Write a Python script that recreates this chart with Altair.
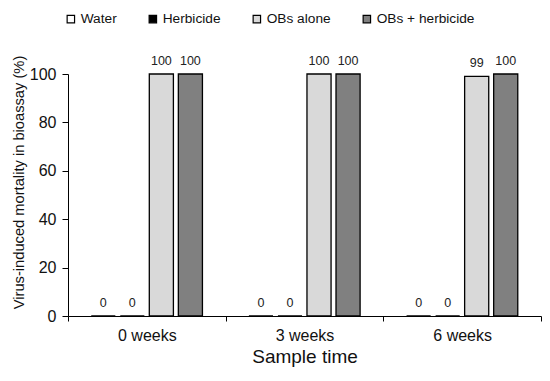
import altair as alt
import pandas as pd

weeks = ["0 weeks", "3 weeks", "6 weeks"]
treatments = ["Water", "Herbicide", "OBs alone", "OBs + herbicide"]
water = [0, 0, 0]
herbicide = [0, 0, 0]
obs_alone = [100, 100, 99]
obs_herb = [100, 100, 100]
colors = ["#ffffff", "#000000", "#d9d9d9", "#808080"]

rows = []
for i, w in enumerate(weeks):
    for t, vals in zip(treatments, [water, herbicide, obs_alone, obs_herb]):
        rows.append({"week": w, "treatment": t, "value": vals[i]})
df = pd.DataFrame(rows)

font = "Liberation Sans"

x = alt.X("week:N", sort=weeks, title="Sample time",
          scale=alt.Scale(paddingInner=0, paddingOuter=0),
          axis=alt.Axis(labelAngle=0, tickBand="extent", labelFontSize=16,
                        labelPadding=6, tickSize=5, titleFontSize=19,
                        titleFontWeight="normal", titlePadding=4,
                        domainColor="#000", tickColor="#000",
                        labelColor="#111", titleColor="#111"))
xo = alt.XOffset("treatment:N", sort=treatments,
                 scale=alt.Scale(paddingInner=0.17, paddingOuter=0.8))

bars = alt.Chart(df).mark_bar(stroke="#000", strokeWidth=1.3).encode(
    x=x,
    xOffset=xo,
    y=alt.Y("value:Q", title="Virus-induced mortality in bioassay (%)",
            scale=alt.Scale(domain=[0, 100], nice=False),
            axis=alt.Axis(values=[0, 20, 40, 60, 80, 100], grid=False,
                          labelFontSize=16, tickSize=6, labelPadding=6,
                          titleFontSize=14.7, titleFontWeight="normal",
                          titlePadding=3, titleY=108,
                          domainColor="#000", tickColor="#000",
                          labelColor="#111", titleColor="#111")),
    color=alt.Color("treatment:N", sort=treatments,
                    scale=alt.Scale(domain=treatments, range=colors),
                    legend=alt.Legend(title=None, orient="none", direction="horizontal",
                                      legendX=-4, legendY=-62, symbolType="square",
                                      symbolSize=55, symbolStrokeColor="#000",
                                      symbolStrokeWidth=1.2, labelFontSize=13.7,
                                      labelColor="#111", columnPadding=29,
                                      labelOffset=3)),
)

labels = alt.Chart(df).mark_text(baseline="middle", dy=-13, fontSize=12.5,
                                 color="#222", font=font).encode(
    x=x,
    xOffset=xo,
    y="value:Q",
    text="value:Q",
)

chart = (bars + labels).properties(
    width=473, height=242,
    autosize=alt.AutoSizeParams(type="none"),
    padding={"left": 60, "top": 66, "right": 1, "bottom": 57},
).configure(font=font).configure_view(stroke=None)

chart.save("out.html", embed_options={"renderer": "svg", "actions": False})
